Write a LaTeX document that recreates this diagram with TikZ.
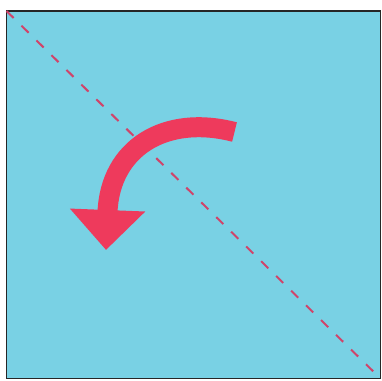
\documentclass[tikz,border=0pt]{standalone}
\usepackage{tikz}
\usetikzlibrary{arrows.meta,positioning,calc}

\definecolor{sqblue}{HTML}{79D1E4}
\definecolor{turnred}{HTML}{EE3A5C}
\definecolor{diagred}{HTML}{D0446A}

\begin{document}
\begin{tikzpicture}[x=1pt,y=-1pt]
      \useasboundingbox (0,0) rectangle (382,380);
      % Square
      \coordinate (tl) at (6.5,11);
      \coordinate (br) at (380.5,378.5);
      \draw[line width=1.6pt,draw=black!85,fill=sqblue] (tl) rectangle (br);
      % Diagonal
      \draw[diagred,line width=2pt,dash pattern=on 10pt off 11pt] (tl) -- (br);
      % Turn arrow
      \coordinate (tail) at (234.5,132);
      \coordinate (tip) at (106,250);
      \draw[turnred,line width=20pt,
        -{Triangle[length=40pt,width=73pt]}]
        (tail) .. controls (165,114) and (110,148) .. (tip);
    \end{tikzpicture}
\end{document}
